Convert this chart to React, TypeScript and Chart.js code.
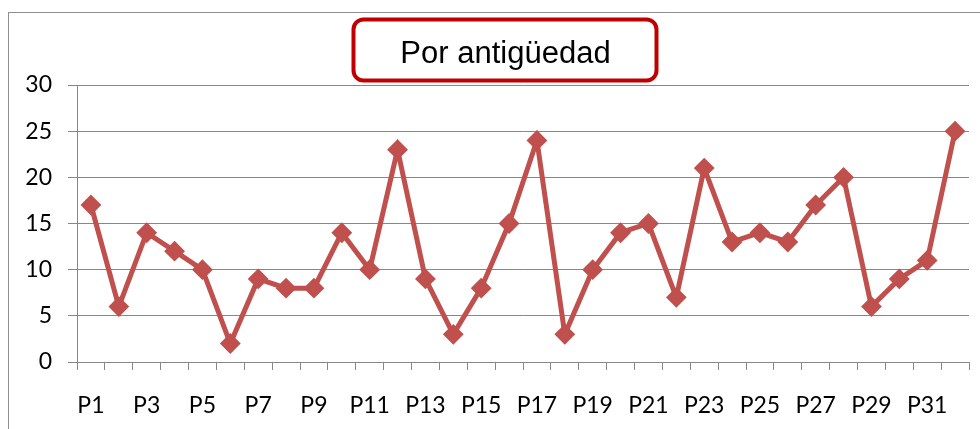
import React, { useEffect, useRef } from "react";
import { Chart, registerables } from "chart.js";

Chart.register(...registerables);

const categories: string[] = Array.from({ length: 32 }, (_, i) => "P" + (i + 1));
const values: number[] = [17, 6, 14, 12, 10, 2, 9, 8, 8, 14, 10, 23, 9, 3, 8, 15, 24, 3, 10, 14, 15, 7, 21, 13, 14, 13, 17, 20, 6, 9, 11, 25];
const yTicks: number[] = [0, 5, 10, 15, 20, 25, 30];
const titleText = "Por antigüedad";

const frameAndTitle = {
  id: "frameAndTitle",
  beforeDraw(chart: any) {
    const ctx = chart.ctx;
    ctx.save();
    ctx.fillStyle = "#ffffff";
    ctx.fillRect(0, 0, chart.width, chart.height);
    ctx.strokeStyle = "#8f8f8f";
    ctx.lineWidth = 1;
    ctx.strokeRect(8.5, 12.5, chart.width + 20, chart.height + 20);
    ctx.restore();
  },
  afterDraw(chart: any) {
    const ctx = chart.ctx;
    ctx.save();
    ctx.beginPath();
    (ctx as any).roundRect(353.5, 19.5, 303, 61, 10);
    ctx.fillStyle = "#ffffff";
    ctx.fill();
    ctx.lineWidth = 4;
    ctx.strokeStyle = "#C00000";
    ctx.stroke();
    ctx.fillStyle = "#000000";
    ctx.font = '31px "Liberation Sans", Arial, sans-serif';
    ctx.textAlign = "center";
    ctx.textBaseline = "alphabetic";
    ctx.fillText(titleText, 505.5, 63);
    ctx.restore();
  },
};

export default function App() {
  const ref = useRef<HTMLCanvasElement | null>(null);
  useEffect(() => {
    if (!ref.current) return;
    const grey = "#878787";
    const chart = new Chart(ref.current, {
      type: "line",
      data: {
        labels: categories,
        datasets: [
          {
            data: values,
            borderColor: "#C0504D",
            backgroundColor: "#C0504D",
            borderWidth: 5,
            pointStyle: "rectRot",
            pointRadius: 9,
            pointBorderWidth: 2,
            pointBackgroundColor: "#C0504D",
            pointBorderColor: "#C0504D",
            tension: 0,
          },
        ],
      },
      options: {
        animation: false,
        responsive: false,
        devicePixelRatio: 1,
        layout: { padding: { top: 85, right: 7, left: 0, bottom: 0 } },
        plugins: { legend: { display: false }, title: { display: false }, tooltip: { enabled: false } },
        scales: {
          x: {
            type: "category",
            offset: true,
            grid: { display: true, drawOnChartArea: false, drawTicks: true, tickLength: 8, offset: true, color: grey },
            border: { display: true, color: grey, width: 1 },
            ticks: {
              autoSkip: false,
              maxRotation: 0,
              minRotation: 0,
              padding: 22,
              color: "#000000",
              font: { family: "Lato, 'Open Sans', sans-serif", size: 23 },
              callback: (_v: any, i: number) => (i % 2 === 0 ? categories[i] : ""),
            },
            afterFit: (s: any) => {
              s.height = 67;
            },
          },
          y: {
            min: 0,
            max: 30,
            afterBuildTicks: (s: any) => {
              s.ticks = yTicks.map((v) => ({ value: v }));
            },
            grid: { color: grey, tickLength: 9, drawTicks: true },
            border: { display: true, color: grey, width: 1 },
            ticks: {
              padding: 16,
              color: "#000000",
              font: { family: "Lato, 'Open Sans', sans-serif", size: 23 },
            },
            afterFit: (s: any) => {
              s.width = 77;
            },
          },
        },
      },
      plugins: [frameAndTitle],
    });
    return () => chart.destroy();
  }, []);
  return (
    <div style={{ position: "absolute", left: 0, top: 0, width: 980, height: 429, overflow: "hidden", background: "#fff" }}>
      <canvas ref={ref} width={980} height={429} style={{ display: "block" }} />
    </div>
  );
}
